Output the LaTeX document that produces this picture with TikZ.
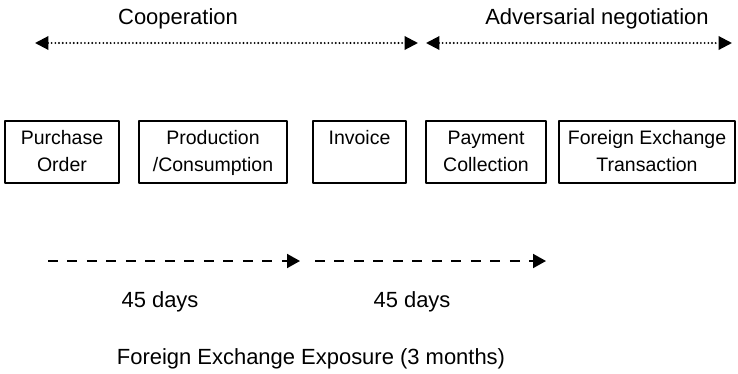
\documentclass[tikz,border=0pt]{standalone}
\usepackage{fontspec}
\setmainfont{Liberation Sans}
\usetikzlibrary{arrows.meta}
\newcommand{\boxstrut}{\rule[-2pt]{0pt}{11pt}}
\tikzset{
  stage/.style={draw,line width=0.6pt,align=center,inner sep=0pt,minimum height=1.24cm,font=\fontsize{11.1}{15.3}\selectfont},
  lbl/.style={anchor=base,inner sep=0pt,font=\fontsize{12.5}{15}\selectfont},
  phase/.style={line width=1.2pt,dash pattern=on 0pt off 2.1pt,{Triangle[length=0.27cm,width=0.27cm]}-{Triangle[length=0.27cm,width=0.27cm]}},
  period/.style={line width=1.1pt,line cap=butt,dash pattern=on 0.2cm off 0.19cm,-{Triangle[length=0.26cm,width=0.28cm]}}
}
\begin{document}
\begin{tikzpicture}[line cap=round,line join=round,x=0.02cm,y=-0.02cm]
    \useasboundingbox (0,0) rectangle (738,373);

    % phases on top
    \node[lbl] (coop) at (178,24) {Cooperation};
    \node[lbl] (adv) at (597,24) {Adversarial negotiation};
    \coordinate (c0) at (35,43);
    \coordinate (c1) at (418,43);
    \coordinate (a0) at (426,43);
    \coordinate (a1) at (732,43);
    \draw[phase] (c0) -- (c1);
    \draw[phase] (a0) -- (a1);

    % stages
    \node[stage,minimum width=2.28cm] (order) at (62,152) {\boxstrut Purchase\\\boxstrut Order};
    \node[stage,minimum width=2.96cm] (prod) at (213,152) {\boxstrut Production\\\boxstrut /Consumption};
    \node[stage,minimum width=1.86cm] (inv) at (359.5,152) {\boxstrut Invoice\\\boxstrut};
    \node[stage,minimum width=2.40cm] (pay) at (486,152) {\boxstrut Payment\\\boxstrut Collection};
    \node[stage,minimum width=3.52cm] (fx) at (647,152) {\boxstrut Foreign Exchange\\\boxstrut Transaction};

    % exposure periods
    \coordinate (d0) at (48,261);
    \coordinate (d1) at (300,261);
    \coordinate (d2) at (315,261);
    \coordinate (d3) at (546,261);
    \draw[period] (d0) -- (d1);
    \draw[period] (d2) -- (d3);

    \node[lbl] (days1) at (160,307) {45 days};
    \node[lbl] (days2) at (412,307) {45 days};
    \node[lbl] (expo) at (311,364) {Foreign Exchange Exposure (3 months)};
\end{tikzpicture}
\end{document}
